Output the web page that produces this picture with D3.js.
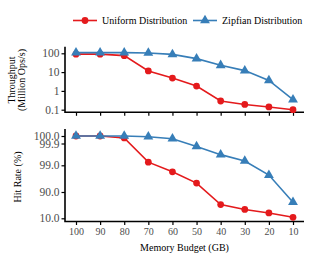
<!DOCTYPE html>
<meta charset="utf-8">
<title>Throughput and hit rate vs memory budget</title>
<style>
body { margin: 0; background: #fff; }
text { font-family: "Liberation Serif", "Times New Roman", serif; }
.tick text { fill: #4d4d4d; font-size: 10px; }
.y-axis .tick text { font-size: 11.5px; }
.tick line { stroke: #000; stroke-width: 1.2px; }
.axis-line { stroke: #000; stroke-width: 1.6px; fill: none; }
.series { fill: none; stroke-width: 1.6px; }
</style>
<body>
<div id="chart"></div>
<script src="https://cdn.jsdelivr.net/npm/d3@7"></script>
<script>

// data
const budgets = [100, 90, 80, 70, 60, 50, 40, 30, 20, 10];
const uniformThroughput = [90, 90, 75, 11.5, 4.8, 1.8, 0.29, 0.19, 0.14, 0.1];
const zipfThroughput = [108, 108, 108, 104, 88, 52, 23, 12, 3.6, 0.34];
const uniformHit = [100, 100, 99.974, 99.13, 96.8, 93.0, 51.9, 37, 26.2, 13];
const zipfHit = [100, 100, 100, 99.99, 99.963, 99.78, 99.44, 99.18, 95.7, 59];
const throughputTicks = [0.1, 1, 10, 100];
const hitTicks = [10, 90, 99, 99.9, 100];
const seriesNames = ["Uniform Distribution", "Zipfian Distribution"];
const colors = ["#e41a1c", "#377eb8"];

const width = 312, height = 260;
const left = 65, right = 304;

const svg = d3.select("#chart").append("svg")
    .attr("width", width)
    .attr("height", height);

const x = d3.scalePoint()
    .domain(budgets)
    .range([76, 293]);

// top panel: log scale
const yTop = d3.scaleLog()
    .domain([0.1, 100])
    .range([109.7, 53.3]);

// bottom panel: hit rate on a stretched scale near 100%
const yBot = d3.scaleLinear()
    .domain(hitTicks)
    .range([218.3, 192, 165.3, 143.5, 136]);

function drawPanel(y, top, bottom, ticks, fmt, s1, s2, showXLabels) {
    const g = svg.append("g");

    g.append("g")
        .attr("class", "y-axis")
        .attr("transform", `translate(${left},0)`)
        .call(d3.axisLeft(y).tickValues(ticks).tickFormat(fmt).tickSize(3.5).tickPadding(2))
        .call(a => a.select(".domain").remove());

    g.append("g")
        .attr("transform", `translate(0,${bottom})`)
        .call(d3.axisBottom(x).tickSize(3.5).tickPadding(2.5))
        .call(a => a.select(".domain").remove())
        .call(a => { if (!showXLabels) a.selectAll("text").remove(); });

    g.append("path")
        .attr("class", "axis-line")
        .attr("d", `M${left},${top}V${bottom}H${right}`);

    [s1, s2].forEach((vals, i) => {
        const pts = budgets.map((b, j) => [x(b), y(vals[j])]);
        g.append("path")
            .attr("class", "series")
            .attr("stroke", colors[i])
            .attr("d", d3.line()(pts));
        g.selectAll(null)
            .data(pts)
            .enter().append("path")
            .attr("fill", colors[i])
            .attr("transform", d => `translate(${d[0]},${d[1]})`)
            .attr("d", d3.symbol().type(i === 0 ? d3.symbolCircle : d3.symbolTriangle).size(i === 0 ? 36 : 42)());
    });
    return g;
}

drawPanel(yTop, 46.7, 112.3, throughputTicks, d3.format("~g"), uniformThroughput, zipfThroughput, false);
drawPanel(yBot, 129, 221.5, hitTicks, d3.format(".1f"), uniformHit, zipfHit, true);

// axis titles
svg.append("text")
    .attr("transform", "translate(15,80) rotate(-90)")
    .attr("text-anchor", "middle")
    .attr("font-size", 10)
    .text("Throughput");
svg.append("text")
    .attr("transform", "translate(24.5,80) rotate(-90)")
    .attr("text-anchor", "middle")
    .attr("font-size", 10)
    .text("(Million Ops/s)");
svg.append("text")
    .attr("transform", "translate(20.5,177) rotate(-90)")
    .attr("text-anchor", "middle")
    .attr("font-size", 10)
    .text("Hit Rate (%)");
svg.append("text")
    .attr("x", (left + right) / 2)
    .attr("y", 251)
    .attr("text-anchor", "middle")
    .attr("font-size", 10)
    .text("Memory Budget (GB)");

// legend
const legend = svg.append("g").attr("transform", "translate(0,20.5)");
const legX = [73, 193];
seriesNames.forEach((name, i) => {
    const lg = legend.append("g").attr("transform", `translate(${legX[i]},0)`);
    lg.append("line")
        .attr("x1", 0).attr("x2", 24)
        .attr("stroke", colors[i])
        .attr("stroke-width", 1.6);
    lg.append("path")
        .attr("fill", colors[i])
        .attr("transform", "translate(12,0)")
        .attr("d", d3.symbol().type(i === 0 ? d3.symbolCircle : d3.symbolTriangle).size(i === 0 ? 36 : 42)());
    lg.append("text")
        .attr("x", 29)
        .attr("dy", "0.35em")
        .attr("font-size", 10)
        .text(name);
});

</script>
</body>
